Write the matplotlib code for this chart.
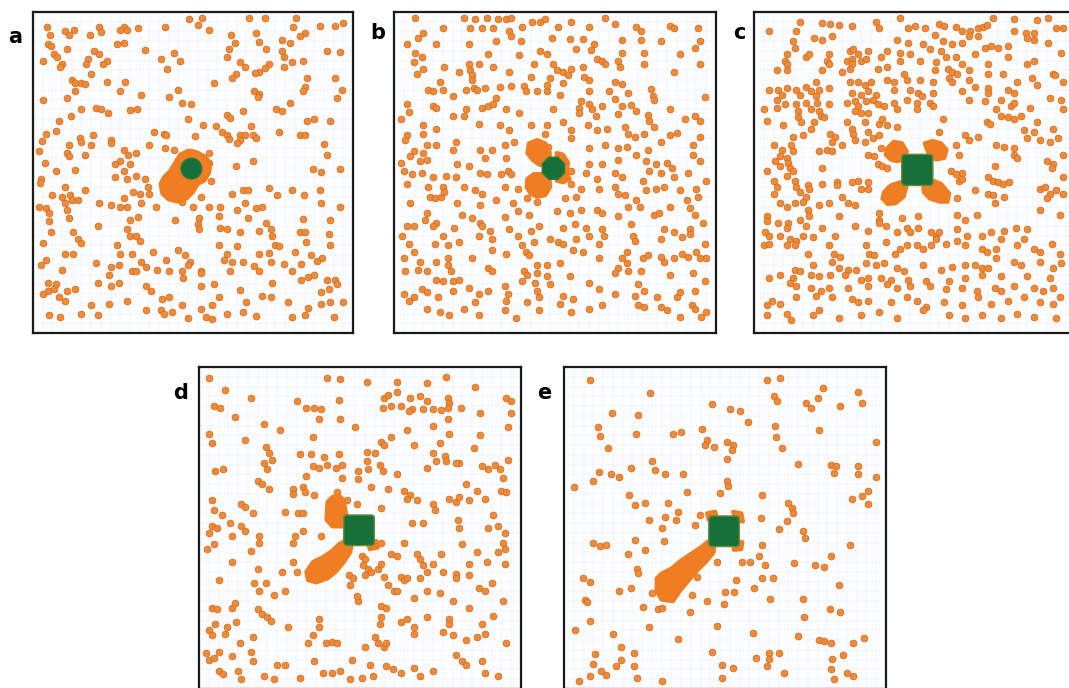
import numpy as np
import matplotlib.pyplot as plt
from matplotlib.patches import Polygon, Circle, RegularPolygon, FancyBboxPatch

# particle positions (panel pixel units x3, y down)
a_pts = [(483,22),(522,18),(668,20),(718,20),(815,18),(510,40),(545,55),(43,45),(205,45),(280,45),(325,48),(408,45),(887,42),(935,42),(960,35),(805,45),(100,60),(128,55),(270,55),(290,55),(612,72),(690,65),(840,65),(825,75),
         (52,70),(110,72),(175,72),(210,62),(625,95),(700,92),(770,85),(795,95),(45,100),(55,105),(260,100),(282,95),(105,115),(345,118),(435,125),(605,115),(720,115),(770,120),(910,120),(950,122),
         (65,130),(75,140),(190,120),(205,130),(170,145),(230,150),(395,145),(455,152),(600,138),(640,155),(655,170),(730,160),(775,140),(800,155),(835,150),(30,150),(90,160),(85,170),(218,160),(165,160),(415,175),(718,172),(700,185),(688,188),(775,170),(628,190),(178,190),
         (120,210),(130,218),(148,220),(160,222),(230,215),(285,215),(560,220),(615,205),(848,205),(935,205),(842,230),(835,245),(450,240),(130,245),(270,245),(335,255),(420,262),(685,245),(700,252),(695,262),(955,240),(940,265),
         (32,272),(105,265),(460,280),(490,285),(795,282),(752,298),(770,305),(195,295),(210,300),(233,310),(300,302),(322,300),(150,300),(118,322),(650,305),(600,318),(610,328),(848,335),(870,330),(920,335),
         (80,335),(480,330),(525,350),(565,352),(675,352),(585,370),(600,380),(605,392),(640,378),(655,378),(680,378),(690,390),(640,395),(630,405),(760,370),(825,380),(840,380),(40,375),(70,368),(185,380),(240,395),(375,370),(405,375),(412,380),(500,382),(145,390),(150,400),(900,408),(28,398),
         (110,410),(240,405),(180,410),(20,430),(360,410),(408,418),(435,425),(490,432),(545,435),(500,450),(280,425),(295,440),(320,435),(105,435),(110,445),(160,440),(910,440),(680,458),(627,475),(270,460),(255,470),(300,470),(38,465),(867,485),(890,492),(950,485),(70,490),(130,488),(545,465),
         (280,490),(290,515),(255,510),(320,505),(345,515),(355,540),(25,515),(22,528),(100,540),(550,522),(650,548),(665,548),(730,542),(800,548),(888,548),(308,555),(330,560),(360,560),(60,565),(90,570),(20,600),
         (115,565),(120,580),(100,590),(140,580),(160,550),(205,590),(240,595),(280,575),(270,600),(290,600),(335,590),(380,600),(430,570),(460,585),(495,600),(520,570),(545,600),(580,602),(615,560),(655,590),(690,605),(710,602),(755,565),(838,565),(890,590),(950,600),(40,605),(50,620),(105,610),
         (325,632),(300,640),(440,642),(515,635),(510,655),(575,628),(630,612),(665,635),(720,650),(835,638),(920,640),(110,635),(50,645),(200,660),(290,670),(515,670),(580,665),(600,668),(640,680),(698,675),(735,668),(740,690),(825,680),(840,680),(915,685),(125,680),(55,680),
         (300,690),(320,690),(330,705),(140,700),(150,712),(30,712),(260,718),(450,735),(470,748),(575,718),(630,722),(750,718),(760,722),(845,708),(920,718),(100,745),(125,745),(270,745),(305,745),(370,740),(410,765),(485,770),(600,745),(700,745),(730,742),(810,740),(860,750),(895,760),(40,765),
         (195,775),(240,785),(265,780),(335,770),(350,785),(385,795),(480,780),(520,800),(590,765),(615,770),(650,770),(685,782),(735,770),(775,778),(830,778),(880,768),(25,780),(90,795),(235,810),(305,800),(320,800),(420,800),(460,800),(520,805),(610,800),(700,800),(800,800),
         (45,835),(70,840),(65,855),(45,860),(30,870),(105,860),(130,855),(200,835),(240,845),(265,835),(350,845),(365,862),(465,820),(520,845),(560,840),(640,858),(710,875),(740,835),(830,825),(850,818),(870,810),(910,825),(935,825),(940,838),(915,855),(890,865),(80,880),
         (100,890),(180,905),(235,900),(290,890),(400,885),(420,880),(460,905),(520,915),(555,905),(575,880),(660,895),(735,880),(790,895),(850,912),(890,900),(920,895),(960,895),(50,935),(85,940),(150,930),(200,935),(350,920),(395,920),(405,930),(430,925),(480,945),(535,940),(555,948),(600,930),(650,925),(690,938),(800,940),(840,935),(930,940)]

b_pts = [(65,20),(215,20),(250,22),(285,20),(320,22),(345,22),(360,18),(425,30),(450,30),(465,22),(545,30),(600,45),(650,18),(680,38),(745,45),(760,60),(850,42),(862,50),(935,48),(150,48),(235,48),(270,48),(305,50),(355,60),(395,45),(505,45),(90,65),(75,80),
         (40,100),(130,100),(230,100),(315,90),(360,75),(390,90),(485,80),(540,82),(580,82),(615,100),(700,85),(760,85),(820,90),(940,90),(925,110),(450,120),(470,128),(290,130),(385,132),(560,115),(605,118),(700,125),(770,125),(880,128),(65,125),(60,155),(85,140),(90,175),
         (155,170),(230,160),(260,160),(235,180),(240,195),(305,170),(355,185),(430,160),(490,160),(500,180),(520,185),(535,195),(545,175),(580,170),(625,145),(640,150),(650,160),(690,150),(695,170),(770,160),(860,185),(940,160),(70,190),(200,185),(420,200),(480,205),(585,200),(600,210),(520,220),
         (140,215),(240,210),(245,235),(255,240),(105,240),(150,240),(120,245),(220,240),(280,235),(325,232),(360,228),(400,228),(405,245),(440,245),(470,245),(470,225),(510,255),(600,245),(660,245),(680,215),(700,222),(720,250),(790,238),(795,260),(800,272),(955,262),(680,268),(575,275),(315,265),(180,260),
         (40,285),(120,290),(130,295),(270,295),(290,290),(305,285),(345,300),(385,310),(490,300),(570,295),(600,285),(610,300),(640,290),(700,290),(730,288),(745,305),(620,320),(690,315),(780,318),(785,335),(850,300),(895,330),(925,320),(940,335),(20,330),(45,308),(215,320),(180,322),(220,300),(570,312),
         (90,350),(130,360),(260,345),(325,350),(355,365),(420,350),(470,350),(520,340),(545,365),(595,350),(625,365),(655,360),(710,355),(720,375),(740,385),(800,355),(770,375),(850,378),(870,372),(940,385),(40,380),(90,375),(35,395),(190,400),(370,400),(465,375),(545,390),(650,410),(130,410),(100,410),
         (180,425),(265,425),(300,425),(340,410),(420,410),(475,415),(600,420),(690,420),(715,415),(745,440),(780,425),(820,400),(920,410),(60,430),(90,435),(100,455),(50,445),(80,460),(280,450),(345,450),(600,470),(640,470),(690,455),(775,460),(805,470),(840,465),(940,460),(920,440),(20,465),
         (30,490),(55,500),(85,495),(195,470),(230,475),(265,495),(285,500),(350,490),(360,500),(545,490),(590,495),(680,495),(785,490),(820,495),(855,480),(905,495),(120,510),(160,505),(190,510),(330,500),(625,515),(700,510),(765,520),(860,510),(960,520),(40,530),
         (105,540),(150,540),(215,540),(250,550),(270,560),(340,540),(380,545),(545,530),(575,545),(630,545),(680,540),(690,560),(710,565),(745,580),(775,550),(805,545),(830,540),(880,550),(930,545),(935,570),(110,570),(125,575),(145,570),(155,555),(50,588),(195,590),(265,595),(315,580),(365,590),(410,575),(440,585),(525,575),(560,570),(900,580),
         (100,620),(95,640),(130,650),(210,625),(240,635),(340,632),(380,615),(415,625),(500,615),(540,620),(575,610),(625,610),(640,620),(690,630),(720,600),(755,600),(800,625),(815,620),(850,600),(910,605),(925,625),(40,660),(60,660),(120,660),
         (185,665),(265,650),(270,660),(295,675),(355,670),(420,675),(445,660),(520,665),(555,655),(590,665),(600,690),(640,670),(645,690),(730,655),(735,690),(830,670),(860,680),(910,670),(950,650),(25,690),(150,690),(200,710),(260,690),(300,700),(380,690),(430,710),(480,700),(505,710),(520,715),(560,700),(630,715),(740,705),(820,700),(885,695),(910,685),(955,715),
         (45,715),(125,715),(165,720),(60,740),(30,760),(80,770),(130,770),(165,760),(240,760),(300,735),(345,745),(395,720),(405,740),(415,750),(440,780),(470,780),(510,775),(550,735),(580,740),(630,760),(700,760),(715,775),(690,790),(715,740),(765,760),(780,750),(820,755),(830,770),(860,760),(885,745),(905,755),(930,740),(940,760),(960,760),
         (35,800),(75,795),(100,800),(165,780),(175,800),(290,790),(300,800),(400,800),(440,805),(410,810),(540,815),(470,815),(680,805),(720,800),(760,800),(850,810),(920,805),(955,830),(130,825),(150,830),(180,830),(200,825),(230,850),(340,845),(395,830),(435,835),(480,838),(600,835),(750,840),
         (30,870),(60,880),(85,855),(100,865),(45,890),(135,880),(180,860),(260,870),(290,862),(350,870),(440,860),(445,880),(520,875),(550,885),(630,855),(680,870),(740,875),(770,860),(810,880),(870,880),(880,865),(925,860),(250,895),(345,890),(410,895),(510,900),(640,905),(750,905),(770,910),(820,910),(840,920),(915,905),(925,915),(100,915),(140,925),(170,935),(215,915),(260,935),(340,920),(375,945),(445,920),(545,925),(600,915),(880,940),(945,940),(960,925)]

c_pts = [(45,60),(130,60),(140,30),(210,35),(235,38),(260,40),(300,42),(375,30),(385,48),(450,18),(475,50),(495,42),(525,48),(555,70),(570,38),(585,42),(620,45),(640,60),(665,60),(690,50),(705,45),(715,40),(735,18),(800,22),(800,58),(835,65),(860,65),(870,25),(905,20),(930,50),(950,50),
         (120,90),(185,80),(210,85),(240,75),(440,85),(475,95),(520,100),(580,90),(610,100),(640,95),(660,75),(690,75),(710,110),(730,105),(750,110),(780,105),(840,80),(860,85),(905,95),(125,110),(100,130),(160,140),(170,130),(230,130),(295,120),(305,115),(320,130),(350,120),(410,120),(450,125),(480,130),(540,115),(575,120),(945,125),
         (95,150),(100,160),(225,150),(230,160),(285,150),(300,145),(330,150),(345,145),(390,140),(450,150),(510,150),(560,155),(590,140),(620,140),(640,160),(680,130),(720,160),(780,140),(840,160),(860,150),(70,180),(100,180),(210,180),(300,160),(295,175),(270,185),(380,175),(410,170),(460,190),(555,180),(595,175),(610,185),(625,190),(660,180),(720,190),(765,190),(920,190),
         (45,240),(75,240),(100,235),(130,240),(160,230),(175,245),(200,240),(230,235),(190,215),(295,215),(320,215),(340,225),(360,215),(410,210),(430,215),(470,210),(510,210),(550,215),(600,205),(610,215),(660,210),(680,230),(720,235),(810,215),(855,205),(870,225),(925,195),(950,215),(85,255),(140,255),(190,260),(300,250),(330,255),(350,245),(375,255),(430,240),(480,240),(505,250),(515,260),(550,250),(640,245),(720,250),(780,240),(800,250),
         (70,270),(95,285),(130,285),(160,280),(195,280),(230,285),(285,280),(310,275),(320,290),(345,275),(365,270),(380,285),(400,290),(430,280),(470,270),(500,280),(540,280),(660,270),(710,275),(760,270),(790,290),(800,280),(850,295),(910,265),(945,270),(30,300),(70,295),(135,305),(175,300),(200,305),(205,320),(310,305),(330,310),(350,310),(440,300),(500,300),(550,290),(745,300),(820,320),(950,300),
         (40,335),(90,350),(135,325),(145,340),(185,340),(215,325),(285,340),(300,360),(340,340),(385,345),(395,330),(410,350),(440,355),(580,330),(715,340),(725,345),(760,320),(780,325),(800,330),(830,365),(860,370),(870,340),(920,360),(305,375),(350,370),(385,380),(570,370),(650,380),(120,385),(150,380),(175,360),(235,375),(250,385),
         (240,400),(270,410),(310,395),(340,400),(365,390),(390,420),(620,410),(660,395),(690,385),(745,410),(770,415),(800,420),(840,390),(880,395),(910,400),(935,390),(60,410),(85,425),(115,410),(120,430),(80,445),(100,450),(200,430),(225,425),(240,430),(350,440),(370,445),(630,440),(800,440),(810,450),(950,440),
         (65,460),(80,475),(105,465),(110,480),(120,490),(210,480),(40,490),(380,470),(395,475),(410,480),(605,490),(620,500),(640,495),(740,475),(900,460),(920,470),(915,480),(950,510),(720,510),(735,520),(750,525),(765,530),(785,525),(320,520),(350,525),(255,525),(210,530),(125,520),(60,520),(70,540),
         (100,505),(130,540),(165,535),(170,545),(60,560),(140,555),(160,570),(255,535),(270,570),(300,525),(330,545),(350,545),(630,520),(640,515),(680,550),(720,560),(735,565),(770,570),(880,545),(895,540),(910,560),(900,575),(930,550),(950,560),
         (80,590),(100,600),(125,590),(150,585),(200,595),(230,590),(290,590),(310,595),(385,620),(385,640),(455,635),(505,630),(625,575),(625,625),(650,640),(685,625),(740,590),(880,610),(940,625),(165,610),(170,630),(40,630),
         (40,645),(75,650),(105,650),(100,665),(140,640),(160,660),(210,665),(260,630),(310,660),(350,675),(385,650),(405,660),(440,680),(470,665),(480,680),(505,665),(545,680),(560,690),(570,680),(625,670),(655,690),(700,690),(730,680),(770,675),(805,665),(840,670),(35,680),(45,690),(80,690),(110,700),(130,705),(150,690),(180,695),(250,690),
         (30,720),(45,715),(100,720),(125,720),(165,745),(230,720),(245,745),(265,755),(345,720),(405,710),(450,730),(470,720),(500,720),(520,730),(545,720),(560,700),(590,715),(625,705),(650,720),(700,730),(715,740),(745,730),(760,700),(810,720),(830,700),(860,730),(880,740),(915,715),(940,745),(355,745),(370,750),(435,745),
         (125,795),(140,800),(180,780),(240,770),(260,790),(290,795),(315,795),(345,775),(375,780),(400,775),(440,790),(460,800),(520,780),(575,795),(610,785),(650,780),(680,780),(700,790),(720,790),(745,760),(800,770),(820,780),(880,770),(920,790),(945,775),(45,820),(80,810),(120,820),(175,810),(200,815),(235,810),(280,810),(330,825),(350,820),(390,820),(420,825),(475,825),(530,830),(600,830),(650,820),(700,810),(760,815),(840,815),(910,820),
         (110,835),(130,845),(175,850),(205,860),(230,850),(290,850),(350,845),(410,840),(440,850),(480,845),(540,845),(590,855),(640,850),(685,860),(740,850),(760,860),(800,845),(860,850),(890,860),(920,850),(55,890),(40,905),(80,900),(130,880),(190,875),(240,880),(300,885),(320,895),(350,890),(420,895),(470,880),(500,890),(530,910),(585,895),(640,905),(690,880),(730,900),(780,890),(830,880),(880,895),(920,900),(940,880),
         (40,935),(100,930),(115,950),(180,935),(200,920),(260,945),(330,935),(385,925),(440,945),(520,920),(600,935),(650,945),(700,935),(760,945),(810,930),(860,940),(930,945)]

d_pts = [(30,35),(395,35),(435,38),(515,45),(610,45),(700,50),(760,30),(850,62),(80,72),(160,95),(300,105),(430,100),(570,95),(580,85),(610,78),(650,95),(680,88),(700,105),(765,95),(770,110),(945,95),(960,105),(45,120),(65,125),(330,125),(355,125),(375,130),(565,125),(590,120),(620,120),(655,130),(690,130),(720,130),(745,132),(765,125),(805,125),(865,140),(960,140),
         (110,155),(370,160),(435,160),(645,135),(765,160),(200,175),(480,185),(720,180),(250,195),(640,195),(950,185),(30,205),(40,235),(140,225),(350,215),(590,215),(560,230),(570,240),(660,240),(740,235),(770,205),(865,210),(205,245),(215,265),(225,285),(310,268),(345,268),(385,278),(430,268),(515,260),(540,265),(720,265),(755,275),(800,295),(845,248),(950,285),(910,300),
         (200,295),(210,315),(350,305),(370,310),(395,300),(420,310),(440,300),(490,320),(515,290),(520,315),(555,300),(565,320),(610,330),(730,290),(760,290),(790,295),(870,305),(890,315),(925,315),(50,320),(75,315),(180,350),(195,360),(290,375),(320,370),(330,335),(440,340),(490,345),(530,370),(580,375),(630,380),(650,395),(700,310),(820,360),(855,380),(935,340),
         (215,375),(290,390),(325,385),(355,395),(425,385),(485,420),(560,435),(640,405),(670,410),(720,420),(770,405),(790,415),(800,400),(830,410),(880,405),(930,380),(945,385),(40,410),(130,420),(140,430),(45,440),(70,455),(165,450),(265,445),(305,450),(320,450),(455,410),(725,440),
         (40,490),(55,495),(30,510),(95,480),(130,490),(140,505),(100,520),(45,545),(185,520),(295,520),(290,540),(320,505),(375,520),(655,480),(690,480),(795,470),(800,495),(905,455),(890,495),(920,490),(940,510),(560,540),(630,540),(935,540),(25,560),
         (160,565),(185,540),(500,580),(510,590),(590,575),(610,580),(670,575),(745,575),(810,545),(855,570),(920,570),(940,560),(100,600),(180,620),(290,600),(300,630),(255,630),(460,640),(505,610),(520,620),(530,630),(550,620),(560,605),(680,590),(690,610),(720,605),(830,605),(885,600),(940,605),(790,635),(830,640),(750,630),(700,630),
         (60,655),(170,665),(185,690),(205,665),(230,700),(265,690),(465,670),(475,650),(510,640),(570,645),(580,670),(600,690),(620,645),(630,655),(640,650),(610,690),(680,650),(700,690),(740,695),(790,650),(860,680),(880,690),(900,665),
         (40,740),(55,745),(100,740),(110,725),(180,745),(195,760),(210,770),(220,780),(490,720),(485,705),(560,735),(575,740),(560,770),(660,710),(780,720),(830,740),(935,720),(50,790),(85,800),(115,785),(370,775),(370,800),(555,790),(620,785),(640,775),(700,770),(770,775),(770,790),(905,765),(870,790),
         (30,810),(40,825),(80,820),(125,850),(165,830),(275,800),(335,850),(350,825),(390,850),(410,845),(425,850),(540,830),(550,850),(570,860),(660,820),(660,800),(750,815),(780,825),(820,840),(855,830),(880,820),(945,850),(60,875),(160,875),(510,860),(575,850),
         (20,880),(30,900),(45,895),(100,890),(165,905),(240,915),(265,915),(355,905),(380,940),(410,940),(435,935),(465,960),(500,955),(525,915),(535,950),(470,900),(575,920),(595,930),(620,940),(660,925),(680,950),(720,935),(790,885),(810,905),(820,915),(870,905),(880,940),(920,950),(60,935),(75,945),(120,935),(130,960),(200,950),(230,960),(310,955)]

e_pts = [(80,40),(625,40),(665,35),(265,80),(645,90),(655,105),(795,65),(780,95),(905,78),(915,112),(745,110),(760,125),(455,115),(510,128),(540,135),(850,120),(148,140),(228,148),(565,170),(105,185),(112,212),(220,205),(335,205),(360,200),(425,190),(650,180),(652,215),(785,195),(440,225),(432,240),(460,245),(500,230),(520,240),(515,255),(670,250),(960,230),(135,250),(500,283),
         (270,290),(280,318),(310,330),(205,310),(108,322),(145,328),(170,338),(90,350),(365,330),(720,298),(820,300),(830,325),(835,305),(905,305),(905,330),(960,338),(30,368),(500,352),(505,365),(378,385),(480,388),(608,393),(200,395),(218,425),(248,418),(320,418),(690,418),(700,432),(705,448),(885,405),(915,398),(935,380),(935,422),
         (350,445),(310,460),(345,470),(262,470),(418,455),(403,485),(300,495),(607,465),(660,498),(685,475),(735,505),(740,525),(218,532),(90,540),(110,550),(130,548),(308,535),(878,548),(608,546),(198,575),(248,562),(600,580),(548,598),(572,598),(470,598),(618,610),(706,603),(772,608),(798,615),(820,582),(225,620),(228,632),(58,650),(80,660),(610,648),(643,650),(410,645),(528,655),(845,670),
         (170,690),(205,678),(272,695),(495,692),(522,692),(585,678),(395,702),(440,720),(493,730),(632,712),(735,712),(65,715),(70,722),(242,738),(290,745),(302,740),(388,752),(738,768),(818,745),(850,752),(80,780),(35,808),(260,800),(470,795),(152,822),(580,818),(720,828),(785,840),(800,842),(822,850),(890,848),(922,832),(352,835),
         (175,862),(215,878),(455,875),(630,880),(660,878),(858,885),(95,882),(90,912),(175,900),(160,920),(215,918),(485,915),(520,925),(590,895),(630,898),(625,920),(825,898),(820,930),(115,935),(130,948),(80,950),(45,965),(225,955),(300,965),(485,955),(675,940),(870,940),(890,950),(830,960)]

# aggregate outlines (same units)
a_agg = [[(455,440),(480,428),(505,432),(530,445),(548,465),(545,495),(530,520),(510,530),(495,555),(475,575),(450,585),(420,578),(400,560),(395,530),(405,510),(425,490),(440,465)]]
b_agg = [[(415,405),(440,395),(465,405),(478,430),(480,460),(470,475),(445,470),(425,455),(410,435)],
         [(410,515),(430,500),(460,500),(478,515),(480,540),(465,565),(440,570),(420,560),(408,540)],
         [(500,435),(520,440),(535,465),(530,500),(540,515),(520,525),(500,520)]]
c_agg = [[(410,420),(430,400),(455,405),(470,430),(460,455),(440,460),(420,455),(405,440)],
         [(525,405),(550,398),(575,405),(592,425),(585,450),(560,455),(540,445)],
         [(400,555),(420,535),(450,525),(468,540),(460,570),(435,590),(410,592),(395,575)],
         [(520,530),(545,518),(575,530),(600,560),(595,585),(570,585),(540,575),(522,555)]]
d_agg = [[(395,415),(410,400),(430,395),(445,410),(450,440),(455,465),(450,490),(410,490),(392,470)],
         [(330,630),(350,600),(380,585),(410,565),(430,545),(455,530),(470,540),(465,570),(445,600),(420,630),(395,650),(360,662),(335,655)],
         [(520,540),(545,535),(550,555),(525,560)]]
e_agg = [[(285,650),(300,635),(330,620),(360,595),(390,575),(420,555),(445,535),(462,540),(460,570),(440,595),(410,625),(380,660),(355,690),(335,720),(300,715),(285,690)],
         [(440,450),(465,445),(470,465),(445,470)],[(520,445),(545,450),(550,475),(528,470)],
         [(520,540),(548,538),(545,560),(522,562)],[(440,540),(460,545),(455,562),(438,558)]]

# green centres: (x, y, kind, size)
cores = {'a': (490, 483, 'circle', 32), 'b': (490, 482, 'octagon', 37),
         'c': (502, 487, 'square', 48), 'd': (492, 502, 'square', 47),
         'e': (492, 505, 'square', 47)}

# panel frames in image pixels and their data limits
W, H = 1069, 688
frames = {'a': (33, 12, 353, 333, (8, 968), (6, 969)),
          'b': (394, 12, 716, 333, (12, 978), (6, 970)),
          'c': (754, 12, 1076, 333, (12, 978), (6, 970)),
          'd': (199, 367, 521, 689, (12, 978), (15, 981)),
          'e': (564, 367, 886, 689, (12, 978), (15, 981))}
label_pos = {'a': (15, 37), 'b': (378, 33), 'c': (739, 33), 'd': (181, 393), 'e': (544, 393)}

pts = {'a': a_pts, 'b': b_pts, 'c': c_pts, 'd': d_pts, 'e': e_pts}
aggs = {'a': a_agg, 'b': b_agg, 'c': c_agg, 'd': d_agg, 'e': e_agg}

orange = '#ef8a36'
blob = '#ef7d22'
green = '#17703a'

fig = plt.figure(figsize=(W/100, H/100), dpi=100)
for k in 'abcde':
    x0, y0, x1, y1, xl, yl = frames[k]
    ax = fig.add_axes([x0/W, 1-y1/H, (x1-x0)/W, (y1-y0)/H])
    ax.set_facecolor('#fafcfd')
    ax.set_xlim(*xl)
    ax.set_ylim(yl[1], yl[0])
    ax.set_xticks(np.arange(0, 1000, 30))
    ax.set_yticks(np.arange(0, 1000, 30))
    ax.grid(True, color='#eef3f6', linewidth=0.35)
    ax.tick_params(length=0, labelbottom=False, labelleft=False)
    for s in ax.spines.values():
        s.set_linewidth(1.6)
        s.set_color('#1a1a1a')
    p = np.array(pts[k])
    ax.scatter(p[:, 0], p[:, 1], s=24, c=orange, edgecolors='#d0671c', linewidths=0.5, zorder=2)
    for poly in aggs[k]:
        ax.add_patch(Polygon(poly, closed=True, facecolor=blob, edgecolor=blob,
                             linewidth=3, joinstyle='round', zorder=3))
    cx, cy, kind, r = cores[k]
    if kind == 'circle':
        g = Circle((cx, cy), r, facecolor=green, edgecolor='#2f7a3a', linewidth=1, zorder=4)
    elif kind == 'octagon':
        g = RegularPolygon((cx, cy), 8, radius=r, orientation=np.pi/8, facecolor=green,
                           edgecolor='#2f7a3a', linewidth=1, zorder=4)
    else:
        g = FancyBboxPatch((cx-r+10, cy-r+10), 2*r-20, 2*r-20, boxstyle='round,pad=10',
                           facecolor=green, edgecolor='#6a8a3a', linewidth=1, zorder=4)
    ax.add_patch(g)
    lx, ly = label_pos[k]
    fig.text(lx/W, 1-ly/H, k, fontsize=15, fontweight='bold', ha='center', va='center')

plt.savefig('out.png', dpi=100)
